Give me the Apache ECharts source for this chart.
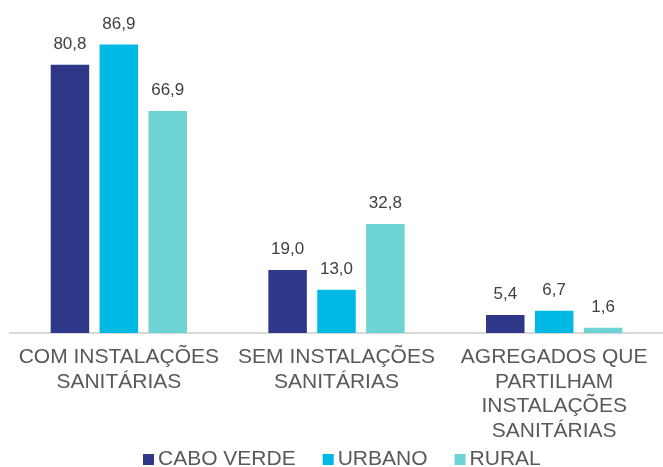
<!DOCTYPE html>
<html>
<head>
<meta charset="utf-8">
<script src="https://cdn.jsdelivr.net/npm/echarts@6/dist/echarts.min.js"></script>
<style>
  html, body { margin: 0; padding: 0; background: #fff; }
  #container { width: 663px; height: 467px; }
</style>
</head>
<body>
<div id="container"></div>
<script>
var categories = [
    'COM INSTALAÇÕES\nSANITÁRIAS',
    'SEM INSTALAÇÕES\nSANITÁRIAS',
    'AGREGADOS QUE\nPARTILHAM\nINSTALAÇÕES\nSANITÁRIAS'
];
var seriesNames = ['CABO VERDE', 'URBANO', 'RURAL'];
var caboVerde = [80.8, 19.0, 5.4];
var urbano = [86.9, 13.0, 6.7];
var rural = [66.9, 32.8, 1.6];
var colors = ['#2e3788', '#00b8e4', '#6dd3d3'];

var font = 'Liberation Sans, Arial, sans-serif';

function makeSeries(name, values, color) {
    return {
        name: name,
        type: 'bar',
        data: values,
        barWidth: 38.5,
        barGap: '27%',
        itemStyle: { color: color },
        label: {
            show: true,
            position: 'top',
            distance: 12,
            color: '#404040',
            fontFamily: font,
            fontSize: 17,
            formatter: function (p) {
                return p.value.toFixed(1).replace('.', ',');
            }
        }
    };
}

var myChart = echarts.init(document.getElementById('container'));
var option = {
    animation: false,
    textStyle: { fontFamily: font },
    grid: { left: 10, width: 660, top: 1, bottom: 134, containLabel: false },
    legend: {
        data: seriesNames,
        top: 444,
        left: 138,
        icon: 'rect',
        itemWidth: 11,
        itemHeight: 11,
        itemGap: 27,
        textStyle: { color: '#595959', fontSize: 21, fontFamily: font, padding: [0, 0, 0, -1] }
    },
    xAxis: {
        type: 'category',
        data: categories,
        axisLine: { lineStyle: { color: '#d9d9d9', width: 2 } },
        axisTick: { show: false },
        axisLabel: {
            interval: 0,
            margin: 12,
            color: '#595959',
            fontSize: 21,
            lineHeight: 24.5,
            fontFamily: font
        }
    },
    yAxis: {
        type: 'value',
        min: 0,
        max: 100,
        show: false,
        splitLine: { show: false }
    },
    series: [
        makeSeries(seriesNames[0], caboVerde, colors[0]),
        makeSeries(seriesNames[1], urbano, colors[1]),
        makeSeries(seriesNames[2], rural, colors[2])
    ]
};
myChart.setOption(option);
</script>
</body>
</html>
